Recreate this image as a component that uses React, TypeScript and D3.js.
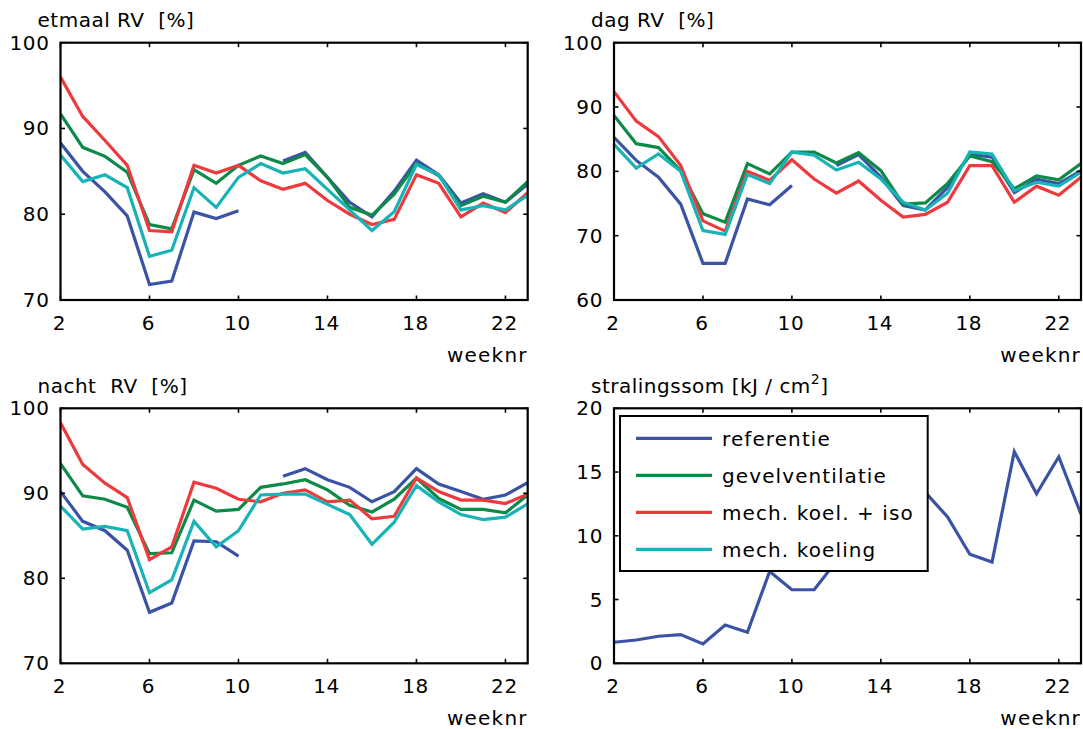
import React from "react";
import * as d3 from "d3";

const weeks = [2, 3, 4, 5, 6, 7, 8, 9, 10, 11, 12, 13, 14, 15, 16, 17, 18, 19, 20, 21, 22, 23];
const xTicks = [2, 6, 10, 14, 18, 22];

const seriesNames = ["referentie", "gevelventilatie", "mech. koel. + iso", "mech. koeling"];
const seriesColors = ["#3a53a4", "#0d8a47", "#ee3a3d", "#18b3b6"];

// etmaal RV [%]
const etmaalRef = [88.3, 85.0, 82.6, 79.8, 71.8, 72.2, 80.25, 79.5, 80.4, null, 86.2, 87.2, 84.3, 81.4, 79.7, 82.7, 86.3, 84.6, 81.3, 82.4, 81.4, 83.5];
const etmaalGevel = [91.7, 87.8, 86.75, 84.9, 78.8, 78.3, 85.2, 83.6, 85.7, 86.8, 85.9, 86.95, 84.3, 80.8, 79.9, 82.35, 85.9, 84.5, 81.0, 82.1, 81.4, 83.8];
const etmaalKoelIso = [96.0, 91.4, 88.6, 85.7, 78.1, 77.95, 85.7, 84.8, 85.7, 83.9, 82.9, 83.6, 81.6, 80.0, 78.8, 79.4, 84.6, 83.6, 79.7, 81.3, 80.2, 82.5];
const etmaalKoeling = [86.9, 83.8, 84.6, 83.1, 75.1, 75.8, 83.1, 80.8, 84.3, 85.9, 84.8, 85.3, 82.9, 80.5, 78.1, 80.3, 85.8, 84.6, 80.5, 81.0, 80.5, 82.2];

// dag RV [%]
const dagRef = [85.3, 81.7, 79.1, 74.9, 65.7, 65.7, 75.7, 74.8, 77.8, null, 80.9, 82.6, 79.1, 74.7, 74.0, 77.5, 82.7, 82.2, 76.7, 78.8, 78.1, 80.1];
const dagGevel = [88.7, 84.3, 83.7, 80.1, 73.4, 72.1, 81.2, 79.6, 83.0, 83.0, 81.3, 82.9, 80.1, 74.9, 75.1, 78.1, 82.4, 81.5, 77.3, 79.3, 78.7, 81.2];
const dagKoelIso = [92.4, 87.8, 85.4, 80.9, 72.3, 70.7, 80.0, 78.6, 81.8, 78.8, 76.6, 78.5, 75.5, 72.9, 73.3, 75.2, 80.9, 80.9, 75.2, 77.7, 76.3, 79.1];
const dagKoeling = [84.2, 80.5, 82.7, 80.0, 70.8, 70.2, 79.5, 78.1, 83.0, 82.5, 80.2, 81.4, 78.8, 75.2, 74.0, 76.6, 83.0, 82.7, 77.0, 78.3, 77.7, 79.9];

// nacht RV [%]
const nachtRef = [90.2, 86.7, 85.6, 83.3, 76.0, 77.1, 84.4, 84.3, 82.6, null, 92.0, 92.9, 91.6, 90.7, 89.0, 90.2, 92.9, 91.1, 90.2, 89.3, 89.8, 91.25];
const nachtGevel = [93.5, 89.7, 89.3, 88.35, 82.9, 83.0, 89.2, 87.9, 88.1, 90.7, 91.1, 91.6, 90.4, 88.6, 87.8, 89.3, 91.8, 89.4, 88.1, 88.1, 87.7, 89.8];
const nachtKoelIso = [98.3, 93.4, 91.2, 89.5, 82.2, 83.7, 91.3, 90.6, 89.3, 89.0, 90.0, 90.4, 89.0, 89.2, 87.0, 87.3, 91.8, 90.2, 89.2, 89.2, 88.8, 89.9];
const nachtKoeling = [88.5, 85.8, 86.1, 85.6, 78.3, 79.8, 86.7, 83.7, 85.6, 89.8, 89.9, 89.9, 88.7, 87.5, 84.0, 86.6, 90.9, 89.0, 87.5, 86.9, 87.2, 88.75];

// stralingssom [kJ/cm2]
const straling = [1.65, 1.83, 2.12, 2.25, 1.52, 3.0, 2.44, 7.2, 5.77, 5.77, 8.0, 9.6, 12.0, 11.5, 13.4, 11.48, 8.55, 7.94, 16.6, 13.3, 16.2, 11.7];

type Panel = {
  key: string;
  left: number;
  top: number;
  right: number;
  bottom: number;
  yDomain: [number, number];
  yTicks: number[];
  title: React.ReactNode;
  series: (number | null)[][];
  legend?: boolean;
};

const FONT = "DejaVu Sans";

const panels: Panel[] = [
  {
    key: "etmaal",
    left: 60.5, top: 42.7, right: 527.7, bottom: 300,
    yDomain: [70, 100], yTicks: [70, 80, 90, 100],
    title: "etmaal RV  [%]",
    series: [etmaalRef, etmaalGevel, etmaalKoelIso, etmaalKoeling],
  },
  {
    key: "dag",
    left: 614, top: 42.7, right: 1081, bottom: 300,
    yDomain: [60, 100], yTicks: [60, 70, 80, 90, 100],
    title: "dag RV  [%]",
    series: [dagRef, dagGevel, dagKoelIso, dagKoeling],
  },
  {
    key: "nacht",
    left: 60.5, top: 408.3, right: 527.7, bottom: 663.3,
    yDomain: [70, 100], yTicks: [70, 80, 90, 100],
    title: "nacht  RV  [%]",
    series: [nachtRef, nachtGevel, nachtKoelIso, nachtKoeling],
  },
  {
    key: "straling",
    left: 614, top: 408.3, right: 1081, bottom: 663.3,
    yDomain: [0, 20], yTicks: [0, 5, 10, 15, 20],
    title: (
      <>
        stralingssom [kJ / cm<tspan dy={-9} fontSize={14}>2</tspan><tspan dy={9}>]</tspan>
      </>
    ),
    series: [straling],
    legend: true,
  },
];

function PanelView({ p }: { p: Panel }) {
  const x = d3.scaleLinear().domain([2, 23]).range([p.left, p.right]);
  const y = d3.scaleLinear().domain(p.yDomain).range([p.bottom, p.top]);
  const line = d3
    .line<number | null>()
    .defined((d) => d !== null)
    .x((_, i) => x(weeks[i]))
    .y((d) => y(d as number));
  const tl = 4.5;
  const clipId = `clip-${p.key}`;
  return (
    <g>
      <defs>
        <clipPath id={clipId}>
          <rect x={p.left} y={p.top - 2} width={p.right - p.left} height={p.bottom - p.top + 4} />
        </clipPath>
      </defs>
      <g clipPath={`url(#${clipId})`}>
        {p.series.map((s, i) => (
          <path key={i} d={line(s) || ""} fill="none" stroke={seriesColors[i]} strokeWidth={3.2} strokeLinejoin="miter" />
        ))}
      </g>
      {xTicks.map((t) => (
        <g key={`x${t}`}>
          <line x1={x(t)} x2={x(t)} y1={p.bottom} y2={p.bottom - tl} stroke="#000" strokeWidth={1.6} />
          <line x1={x(t)} x2={x(t)} y1={p.top} y2={p.top + tl} stroke="#000" strokeWidth={1.6} />
          <text x={x(t) - 1} y={p.bottom + 30} textAnchor="middle" fontFamily={FONT} fontSize={20} letterSpacing={0.6}>
            {t}
          </text>
        </g>
      ))}
      {p.yTicks.map((t) => (
        <g key={`y${t}`}>
          <line x1={p.left} x2={p.left + tl} y1={y(t)} y2={y(t)} stroke="#000" strokeWidth={1.6} />
          <line x1={p.right} x2={p.right - tl} y1={y(t)} y2={y(t)} stroke="#000" strokeWidth={1.6} />
          <text x={p.left - 11} y={y(t) + 7} textAnchor="end" fontFamily={FONT} fontSize={20} letterSpacing={0.6}>
            {t}
          </text>
        </g>
      ))}
      <rect x={p.left} y={p.top} width={p.right - p.left} height={p.bottom - p.top} fill="none" stroke="#000" strokeWidth={2.2} />
      <text x={p.left - 23} y={p.top - 15.5} fontFamily={FONT} fontSize={20} letterSpacing={0.5} style={{ whiteSpace: "pre" }}>
        {p.title}
      </text>
      <text x={p.right} y={p.bottom + 62} textAnchor="end" fontFamily={FONT} fontSize={20} letterSpacing={1.2}>
        weeknr
      </text>
      {p.legend && <Legend />}
    </g>
  );
}

function Legend() {
  const lx = 620, ly = 416, lw = 307.7, lh = 155;
  const rows = [438.3, 475.3, 512.3, 549.3];
  return (
    <g>
      <rect x={lx} y={ly} width={lw} height={lh} fill="#fff" stroke="#000" strokeWidth={2} />
      {seriesNames.map((n, i) => (
        <g key={n}>
          <line x1={636} x2={712} y1={rows[i]} y2={rows[i]} stroke={seriesColors[i]} strokeWidth={3.2} />
          <text x={722} y={rows[i] + 7.5} fontFamily={FONT} fontSize={20} letterSpacing={1.1}>
            {n}
          </text>
        </g>
      ))}
    </g>
  );
}

export default function App() {
  return (
    <svg
      width={1083}
      height={729}
      viewBox="0 0 1083 729"
      style={{ position: "absolute", left: 0, top: 0, background: "#fff" }}
    >
      <rect x={0} y={0} width={1083} height={729} fill="#fff" />
      {panels.map((p) => (
        <PanelView key={p.key} p={p} />
      ))}
    </svg>
  );
}
